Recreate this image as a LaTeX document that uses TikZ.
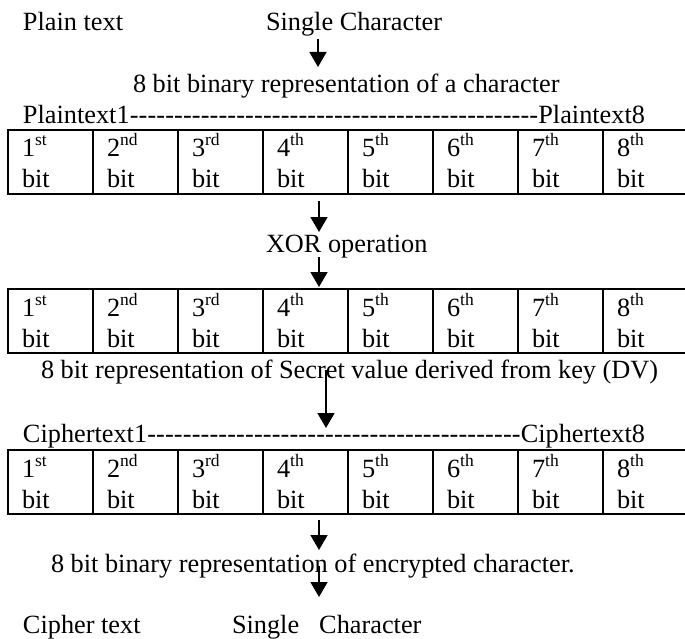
\documentclass[tikz,border=0pt]{standalone}
\usepackage{fontspec}
\setmainfont{Liberation Serif}
\usetikzlibrary{arrows.meta}
\newcommand\ordsup[2]{#1\raisebox{11pt}{\fontsize{17.5}{17.5}\selectfont #2}}
\newcommand\dashfill[3]{\hbox to #1{#2\xleaders\hbox{-}\hfill #3}}
\tikzset{
  txt/.style={anchor=base west, inner sep=0pt, outer sep=0pt, font=\fontsize{26.3}{30}\selectfont},
  tbl/.style={line width=2.2pt},
  arr/.style={line width=1.6pt, -{Triangle[length=15pt,width=17pt]}},
}
\begin{document}
\begin{tikzpicture}[x=1pt,y=-1pt]
\useasboundingbox (0,0) rectangle (685,639);
% top labels
\node[txt] (pt) at (23,31) {Plain text};
\node[txt] (sc) at (266,31) {Single Character};
\coordinate (a1s) at (318,39);
\coordinate (a1e) at (318,67);
\draw[arr] (a1s) -- (a1e);
\node[txt] (bin) at (133,93) {8 bit binary representation of a character};
\node[txt] (ptrow) at (23,124) {\dashfill{622pt}{Plaintext1}{Plaintext8}};
% tables
\foreach \t/\y in {A/130, B/289, C/450}{
  \draw[tbl] (8,\y) rectangle (688,\y+64);
  \foreach \i in {1,...,7}{
    \draw[tbl] (8+85*\i,\y) -- (8+85*\i,\y+64);
  }
  \foreach \i/\s in {1/st,2/nd,3/rd,4/th,5/th,6/th,7/th,8/th}{
    \node[txt] (\t o\i) at (22+85*\i-85,\y+27) {\ordsup{\i}{\s}};
    \node[txt] (\t b\i) at (22+85*\i-85,\y+58) {bit};
  }
}
\coordinate (a2s) at (319,201);
\coordinate (a2e) at (319,232);
\draw[arr] (a2s) -- (a2e);
\node[txt] (xor) at (266,252) {XOR operation};
\coordinate (a3s) at (319,257);
\coordinate (a3e) at (319,287);
\draw[arr] (a3s) -- (a3e);
\node[txt] (dv) at (41,378) {8 bit representation of Secret value derived from key (DV)};
\coordinate (a4s) at (326,370);
\coordinate (a4e) at (326,428);
\draw[arr] (a4s) -- (a4e);
\node[txt] (ctrow) at (23,442) {\dashfill{622pt}{Ciphertext1}{Ciphertext8}};
\coordinate (a5s) at (319,520);
\coordinate (a5e) at (319,550);
\draw[arr] (a5s) -- (a5e);
\node[txt] (enc) at (51,572) {8 bit binary representation of encrypted character.};
\coordinate (a6s) at (319,566);
\coordinate (a6e) at (319,597);
\draw[arr] (a6s) -- (a6e);
\node[txt] (ct) at (23,633) {Cipher text};
\node[txt] (sc2) at (232,633) {Single\hspace{20pt}Character};
\end{tikzpicture}
\end{document}
